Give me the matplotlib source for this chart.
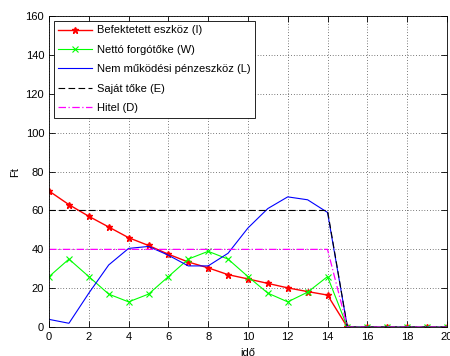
import matplotlib
matplotlib.use("Agg")
import matplotlib.pyplot as plt

plt.rcParams['font.family'] = ['Liberation Sans', 'DejaVu Sans']

ido = list(range(21))
befektetett = [70, 63, 57, 51.5, 46, 42, 37.5, 33.5, 30.5, 27, 24.8, 22.5, 20.2, 18.3, 16.5,
               0, 0, 0, 0, 0, 0]
netto = [26, 35, 26, 17, 13, 17, 26, 35, 39, 35, 26, 17.5, 13, 18, 26,
         0, 0, 0, 0, 0, 0]
nem_mukodesi = [4, 2, 17.5, 32, 40.5, 41.5, 37, 31.5, 31.5, 38, 51, 61, 67, 65.5, 59,
                0, 0, 0, 0, 0, 0]
sajat_toke = [60] * 15 + [0] * 6
hitel = [40] * 15 + [0] * 6

fig = plt.figure(figsize=(4.5, 3.56), dpi=100)
ax = fig.add_axes([0.109, 0.081, 0.884, 0.874])

ax.plot(ido, befektetett, color='red', marker='*', markersize=5, lw=1.0,
        label='Befektetett eszköz (I)')
ax.plot(ido, netto, color=(0, 1, 0), marker='x', markersize=4, lw=0.8,
        markeredgewidth=0.8, label='Nettó forgótőke (W)')
ax.plot(ido, nem_mukodesi, color='blue', lw=0.8, label='Nem működési pénzeszköz (L)')
ax.plot(ido, sajat_toke, color='black', lw=0.8, ls=(0, (6, 3)), label='Saját tőke (E)')
ax.plot(ido, hitel, color='magenta', lw=0.9, ls=(0, (6, 2, 1, 2)), label='Hitel (D)')

ax.set_xlim(0, 20)
ax.set_ylim(0, 160)
ax.set_xticks(range(0, 21, 2))
ax.set_yticks(range(0, 161, 20))
ax.tick_params(direction='in', top=True, right=True, labelsize=8, length=4, width=0.6)
ax.grid(True, color='black', ls=(0, (1, 3)), lw=0.5)
for s in ax.spines.values():
    s.set_linewidth(0.6)

ax.set_xlabel('idő', fontsize=8)
ax.set_ylabel('Ft', fontsize=8)

leg = ax.legend(loc='upper left', fontsize=8, frameon=True, fancybox=False,
                edgecolor='black', framealpha=1, handlelength=3.0, borderaxespad=0.45,
                labelspacing=0.85, handletextpad=0.5)
leg.get_frame().set_linewidth(0.6)

fig.savefig('out.png', dpi=100)
